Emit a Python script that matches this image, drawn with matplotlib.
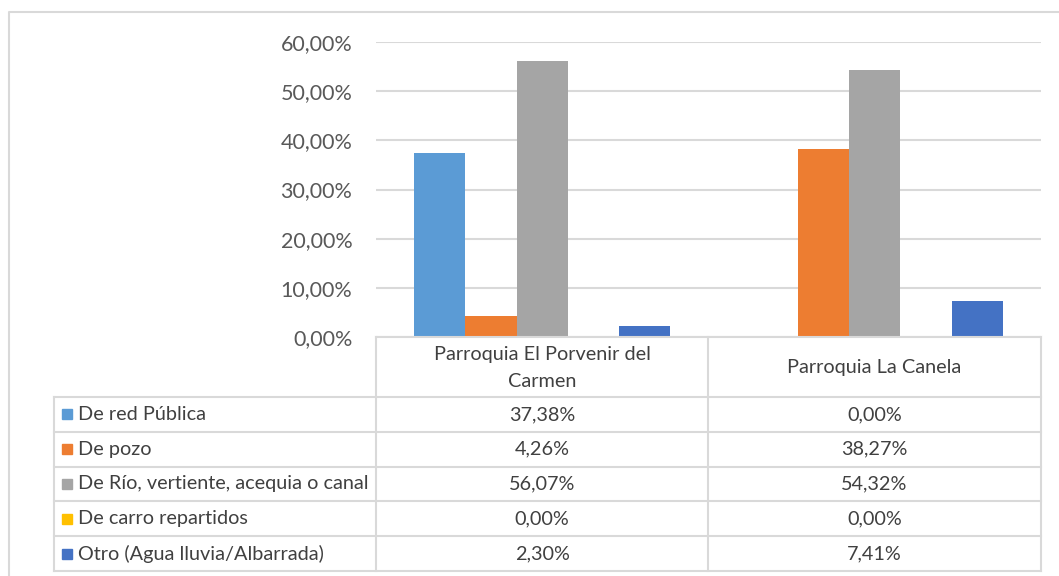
import matplotlib.pyplot as plt
import numpy as np
from matplotlib.ticker import FuncFormatter

# data
parroquias = ['Parroquia El Porvenir del\nCarmen', 'Parroquia La Canela']
series = ['De red Pública', 'De pozo', 'De Río, vertiente, acequia o canal',
          'De carro repartidos', 'Otro (Agua lluvia/Albarrada)']
red_publica = [37.38, 0.00]
pozo = [4.26, 38.27]
rio = [56.07, 54.32]
carro = [0.00, 0.00]
otro = [2.30, 7.41]
colors = ['#5B9BD5', '#ED7D31', '#A5A5A5', '#FFC000', '#4472C4']

values = [red_publica, pozo, rio, carro, otro]

W, H = 1059, 576
plt.rcParams['font.family'] = ['Lato', 'DejaVu Sans']
fig = plt.figure(figsize=(W / 100, H / 100), dpi=100)

# pixel layout helpers
def px_axes(x0, y0, x1, y1):
    return fig.add_axes([x0 / W, 1 - y1 / H, (x1 - x0) / W, (y1 - y0) / H])

grid_c = '#d9d9d9'
txt_c = '#404040'
fs_tab = 14.3

# bar chart
ax = px_axes(376, 42, 1041, 337)
n = len(series)
bw = 0.154
x = np.arange(len(parroquias)) + 0.5
for i, (vals, c) in enumerate(zip(values, colors)):
    ax.bar(x + (i - (n - 1) / 2) * bw, np.array(vals) / 100, bw, color=c, zorder=3)
ax.set_xlim(0, 2)
ax.set_ylim(0, 0.6)
ax.set_yticks(np.arange(0, 0.61, 0.1))
ax.yaxis.set_major_formatter(FuncFormatter(lambda v, p: f'{v * 100:.2f}%'.replace('.', ',')))
ax.grid(True, axis='y', color=grid_c, linewidth=1.5, zorder=0)
ax.set_xticks([])
for s in ax.spines.values():
    s.set_visible(False)
ax.tick_params(axis='y', length=0, pad=17, labelsize=15.5, labelcolor='#595959')

# data table overlay in pixel coords
tab = fig.add_axes([0, 0, 1, 1], zorder=5)
tab.set_xlim(0, W)
tab.set_ylim(H, 0)
tab.axis('off')
tab.patch.set_alpha(0)

lw = 1.5
col_x = [54, 376, 708, 1041]
head_top, head_bot = 337, 397
row_h = (571 - head_bot) / n
# header
tab.plot([376, 1041], [head_top, head_top], color=grid_c, lw=lw)
for cx in col_x[1:]:
    tab.plot([cx, cx], [head_top, 571], color=grid_c, lw=lw)
for j, name in enumerate(parroquias):
    tab.text((col_x[j + 1] + col_x[j + 2]) / 2, (head_top + head_bot) / 2 + 1, name,
             ha='center', va='center', fontsize=fs_tab, color=txt_c, linespacing=1.65)
# rows
tab.plot([54, 54], [head_bot, 571], color=grid_c, lw=lw)
for i in range(n + 1):
    yy = head_bot + i * row_h
    tab.plot([54, 1041], [yy, yy], color=grid_c, lw=lw)
for i, (name, vals, c) in enumerate(zip(series, values, colors)):
    yc = head_bot + (i + 0.5) * row_h
    tab.add_patch(plt.Rectangle((62, yc - 5), 10, 10, color=c))
    tab.text(78, yc, name, ha='left', va='center', fontsize=fs_tab, color=txt_c)
    for j, v in enumerate(vals):
        tab.text((col_x[j + 1] + col_x[j + 2]) / 2, yc, f'{v:.2f}%'.replace('.', ','),
                 ha='center', va='center', fontsize=fs_tab, color=txt_c)

# outer chart border
tab.plot([8.5, 8.5, 1065], [590, 12, 12], color=grid_c, lw=1.5)

fig.savefig('out.png', dpi=100)
